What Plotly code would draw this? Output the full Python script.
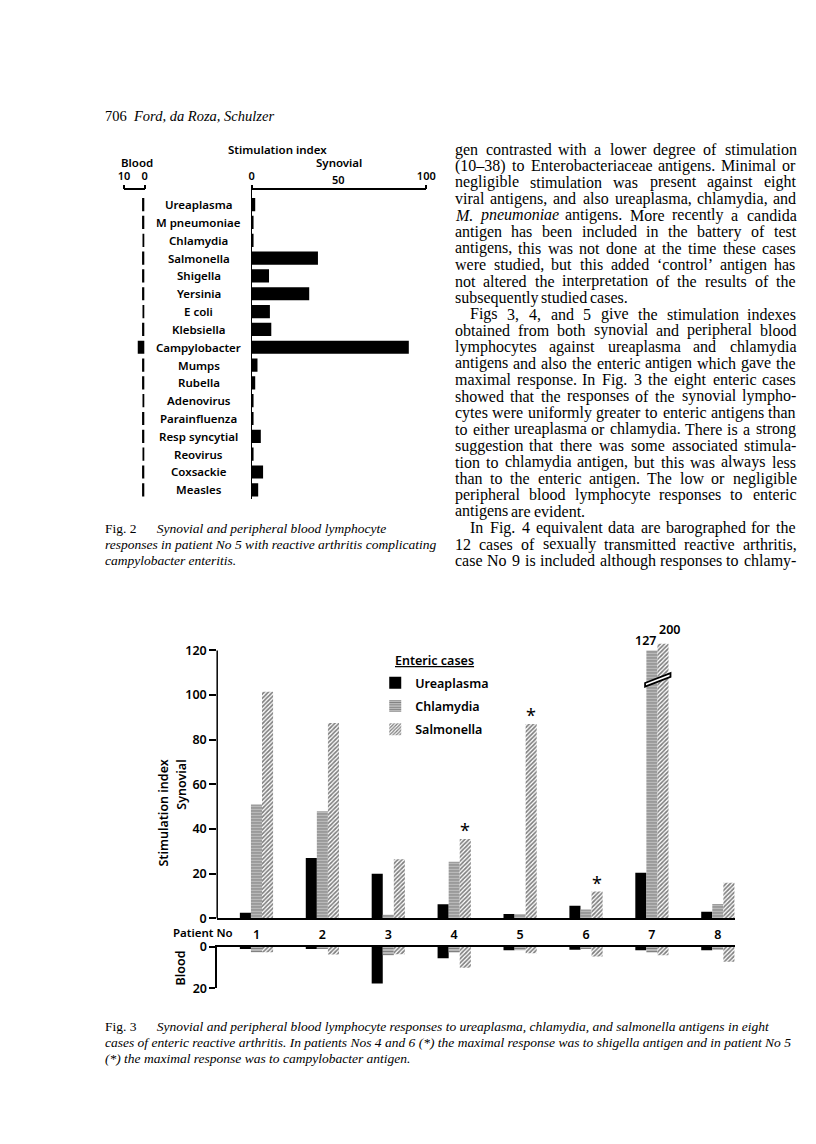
import plotly.graph_objects as go

W, H = 816, 1144

# ---------------- data ----------------
fig2_antigens = ["Ureaplasma", "M pneumoniae", "Chlamydia", "Salmonella", "Shigella",
                 "Yersinia", "E coli", "Klebsiella", "Campylobacter", "Mumps", "Rubella",
                 "Adenovirus", "Parainfluenza", "Resp syncytial", "Reovirus", "Coxsackie",
                 "Measles"]
fig2_synovial = [2.1, 1.1, 0.9, 38, 10, 33, 10.5, 11.3, 90, 3.4, 2.1, 1.1, 1.1, 5.3, 0.9, 6.6, 3.8]
fig2_blood = [1.2, 1.2, 1.0, 1.2, 1.2, 1.2, 1.0, 1.2, 3.3, 1.2, 1.2, 1.0, 1.2, 1.2, 1.0, 1.2, 1.2]
fig2_blood_ticks = [10, 0]
fig2_syn_ticks = [0, 50, 100]

fig3_patients = [1, 2, 3, 4, 5, 6, 7, 8]
fig3_series = ["Ureaplasma", "Chlamydia", "Salmonella"]
fig3_synovial = {
    "Ureaplasma": [2.5, 27, 20, 6.3, 2, 5.7, 20.4, 3],
    "Chlamydia": [51, 48, 1.6, 25.4, 2, 4, 127, 6.5],
    "Salmonella": [101.5, 87.5, 26.5, 35.6, 87, 12, 200, 16],
}
fig3_blood = {
    "Ureaplasma": [1.0, 0.8, 17.6, 5.4, 1.6, 1.3, 1.6, 1.6],
    "Chlamydia": [2.5, 1.0, 4.0, 2.7, 1.6, 1.0, 2.7, 1.5],
    "Salmonella": [2.5, 3.7, 3.5, 10.0, 3.0, 4.6, 4.0, 7.2],
}
# height at which an off-scale bar is drawn on the broken axis
fig3_break_draw = {"Ureaplasma": 120, "Chlamydia": 120, "Salmonella": 123}
fig3_break_at = 106
fig3_starred = [4, 5, 6]          # maximal response to another enteric antigen
fig3_syn_ticks = [0, 20, 40, 60, 80, 100, 120]
fig3_blood_ticks = [0, 20]

header = ["706", "Ford, da Roza, Schulzer"]

body_lines = [
    ("gen contrasted with a lower degree of stimulation", True, False),
    ("(10–38) to Enterobacteriaceae antigens. Minimal or", True, False),
    ("negligible stimulation was present against eight", True, False),
    ("viral antigens, and also ureaplasma, chlamydia, and", True, False),
    ("_M. _pneumoniae antigens. More recently a candida", True, False),
    ("antigen has been included in the battery of test", True, False),
    ("antigens, this was not done at the time these cases", True, False),
    ("were studied, but this added ‘control’ antigen has", True, False),
    ("not altered the interpretation of the results of the", True, False),
    ("subsequently studied cases.", False, False),
    ("Figs 3, 4, and 5 give the stimulation indexes", True, True),
    ("obtained from both synovial and peripheral blood", True, False),
    ("lymphocytes against ureaplasma and chlamydia", True, False),
    ("antigens and also the enteric antigen which gave the", True, False),
    ("maximal response. In Fig. 3 the eight enteric cases", True, False),
    ("showed that the responses of the synovial lympho-", True, False),
    ("cytes were uniformly greater to enteric antigens than", True, False),
    ("to either ureaplasma or chlamydia. There is a strong", True, False),
    ("suggestion that there was some associated stimula-", True, False),
    ("tion to chlamydia antigen, but this was always less", True, False),
    ("than to the enteric antigen. The low or negligible", True, False),
    ("peripheral blood lymphocyte responses to enteric", True, False),
    ("antigens are evident.", False, False),
    ("In Fig. 4 equivalent data are barographed for the", True, True),
    ("12 cases of sexually transmitted reactive arthritis,", True, False),
    ("case No 9 is included although responses to chlamy-", True, False),
]

fig2_caption = [
    ("Fig. 2", "Synovial and peripheral blood lymphocyte"),
    ("", "responses in patient No 5 with reactive arthritis complicating"),
    ("", "campylobacter enteritis."),
]
fig3_caption = [
    ("Fig. 3", "Synovial and peripheral blood lymphocyte responses to ureaplasma, chlamydia, and salmonella antigens in eight"),
    ("", "cases of enteric reactive arthritis. In patients Nos 4 and 6 (*) the maximal response was to shigella antigen and in patient No 5"),
    ("", "(*) the maximal response was to campylobacter antigen."),
]

# ---------------- helpers ----------------
def fx(px):
    return px / W


def fy(py):
    return 1 - py / H


TIMES = {' ': 250, '!': 333, '(': 333, ')': 333, '*': 500, ',': 250, '-': 333, '.': 250,
         '/': 278, ':': 278, ';': 278, '‘': 333, '’': 333, "'": 180, '–': 500,
         'A': 722, 'B': 667, 'C': 667, 'D': 722, 'E': 611, 'F': 556, 'G': 722, 'H': 722,
         'I': 333, 'J': 389, 'K': 722, 'L': 611, 'M': 889, 'N': 722, 'O': 722, 'P': 556,
         'Q': 722, 'R': 667, 'S': 556, 'T': 611, 'U': 722, 'V': 722, 'W': 944, 'X': 722,
         'Y': 722, 'Z': 611,
         'a': 444, 'b': 500, 'c': 444, 'd': 500, 'e': 444, 'f': 333, 'g': 500, 'h': 500,
         'i': 278, 'j': 278, 'k': 500, 'l': 278, 'm': 778, 'n': 500, 'o': 500, 'p': 500,
         'q': 500, 'r': 333, 's': 389, 't': 278, 'u': 500, 'v': 500, 'w': 722, 'x': 500,
         'y': 500, 'z': 444}
for d in "0123456789":
    TIMES[d] = 500
TIMES_I = {'a': 500, 'f': 278, 'k': 444, 'm': 722, 'r': 389, 'v': 444, 'w': 667,
           'x': 444, 'y': 444, 'z': 389, 'M': 833}


def text_w(word, fs, italic=False):
    tot = 0
    for ch in word:
        if italic and ch in TIMES_I:
            tot += TIMES_I[ch]
        else:
            tot += TIMES.get(ch, 500)
    return tot * fs / 1000


SANS = "Noto Sans"
SERIF = "Liberation Serif"
F2 = dict(family=SANS, size=11.5, color="black", weight=600)
F2T = dict(family=SANS, size=11, color="black", weight=600)
F3 = dict(family=SANS, size=12.5, color="black", weight=600)
F3T = dict(family=SANS, size=12.5, color="black", weight=600)

fig = go.Figure()

# ---------------- Fig 2 ----------------
fig.add_trace(go.Bar(x=fig2_blood, y=fig2_antigens, orientation="h", xaxis="x", yaxis="y",
                     marker=dict(color="black", line=dict(width=0)), width=0.74,
                     showlegend=False, hoverinfo="skip"))
fig.add_trace(go.Bar(x=fig2_synovial, y=fig2_antigens, orientation="h", xaxis="x2", yaxis="y2",
                     marker=dict(color="black", line=dict(width=0)), width=0.74,
                     showlegend=False, hoverinfo="skip"))

# ---------------- Fig 3 ----------------
BAR_W = 0.168
offsets = {"Ureaplasma": -1.5 * BAR_W, "Chlamydia": -0.5 * BAR_W, "Salmonella": 0.5 * BAR_W}


def marker_for(name):
    if name == "Ureaplasma":
        return dict(color="black", line=dict(width=0))
    if name == "Chlamydia":
        return dict(color="white", line=dict(width=0),
                    pattern=dict(shape="-", fgcolor="black", bgcolor="white", size=3, solidity=0.7))
    return dict(color="white", line=dict(width=0),
                pattern=dict(shape="/", fgcolor="black", bgcolor="white", size=3, solidity=0.55))


SYN_TOP = 124
for name in fig3_series:
    vals = fig3_synovial[name]
    drawn = [min(v, fig3_break_draw[name]) for v in vals]
    fig.add_trace(go.Bar(x=fig3_patients, y=drawn, xaxis="x3", yaxis="y3", name=name,
                         legendgroup=name, width=BAR_W, offset=offsets[name],
                         marker=marker_for(name), hoverinfo="skip"))
for name in fig3_series:
    fig.add_trace(go.Bar(x=fig3_patients, y=fig3_blood[name], xaxis="x4", yaxis="y4",
                         legendgroup=name, showlegend=False, width=BAR_W, offset=offsets[name],
                         marker=marker_for(name), hoverinfo="skip"))

PXU = 2.267  # synovial px per unit (fig 3)
x3_range = [0.404, 8.268]

common = dict(showgrid=False, zeroline=False, fixedrange=True, linecolor="black",
              tickcolor="black")

fig.update_layout(
    width=W, height=H, margin=dict(l=0, r=0, t=0, b=0),
    paper_bgcolor="white", plot_bgcolor="rgba(0,0,0,0)",
    font=dict(family=SANS, color="black"),
    barmode="overlay",
    # fig 2 blood
    xaxis=dict(domain=[fx(112), fx(133)], range=[10, 0], side="top", anchor="y",
               showline=True, linewidth=1.5, ticks="outside", ticklen=4, tickwidth=1.5,
               tickvals=fig2_blood_ticks, tickfont=F2T, ticklabelstandoff=0, **common),
    yaxis=dict(domain=[fy(489), fy(176)], range=[16.5, -0.8], type="category",
               categoryorder="array", categoryarray=fig2_antigens, anchor="x",
               visible=False, **common),
    # fig 2 synovial
    xaxis2=dict(domain=[fx(242), fx(420)], range=[0, 100], side="top", anchor="y2",
                showline=True, linewidth=1.5, ticks="outside", ticklen=4, tickwidth=1.5,
                tickvals=[fig2_syn_ticks[0], fig2_syn_ticks[-1]], tickfont=F2T,
                ticklabelstandoff=0, **common),
    yaxis2=dict(domain=[fy(489), fy(176)], range=[16.5, -0.8], type="category",
                categoryorder="array", categoryarray=fig2_antigens, anchor="x2",
                showline=True, linewidth=1.2, showticklabels=False, ticks="", **common),
    # fig 3 synovial
    xaxis3=dict(domain=[fx(207), fx(735)], range=x3_range, anchor="y3", showline=True,
                linewidth=1.5, ticks="", tickvals=fig3_patients, tickfont=F3T,
                ticklabelstandoff=4, **common),
    yaxis3=dict(domain=[fy(915), fy(915 - SYN_TOP * PXU)], range=[0, SYN_TOP], anchor="x3",
                ticks="outside", ticklen=7, tickwidth=1.5, tickvals=fig3_syn_ticks,
                tickfont=F3T, showline=False, **common),
    # fig 3 blood
    xaxis4=dict(domain=[fx(207), fx(735)], range=x3_range, anchor="y4", side="top",
                showline=True, linewidth=1.5, ticks="", showticklabels=False, **common),
    yaxis4=dict(domain=[fy(986), fy(944)], range=[20, 0], anchor="x4", ticks="outside",
                ticklen=6, tickwidth=1.5, tickvals=fig3_blood_ticks, tickfont=F3T,
                showline=True, linewidth=1.5, **common),
    legend=dict(x=fx(368), y=fy(661), xanchor="left", yanchor="top", font=F3,
                bgcolor="rgba(0,0,0,0)", traceorder="grouped", tracegroupgap=4,
                itemclick=False, itemdoubleclick=False),
    showlegend=True,
)

shapes = []
# synovial axis line stops at the top tick (axis is broken above)
shapes.append(dict(type="line", xref="x3 domain", x0=0, x1=0, yref="y3", y0=0,
                   y1=fig3_syn_ticks[-1], line=dict(color="black", width=1.5)))
# break mark across the off-scale bars of patient 7
bx0 = 7 + offsets["Chlamydia"] - 0.02
bx1 = 7 + offsets["Salmonella"] + BAR_W + 0.03
b0 = fig3_break_at - 2.2
b1 = fig3_break_at + 2.2
th = 1.6
shapes.append(dict(type="path", xref="x3", yref="y3",
                   path=f"M {bx0},{b0} L {bx1},{b1} L {bx1},{b1 + th} L {bx0},{b0 + th} Z",
                   fillcolor="white", line=dict(color="black", width=1.8), layer="above"))
fig.update_layout(shapes=shapes)

ann = []


def add(text, x, y, font, xanchor="center", yanchor="middle", xref="paper", yref="paper", **kw):
    ann.append(dict(text=text, x=x, y=y, xref=xref, yref=yref, xanchor=xanchor,
                    yanchor=yanchor, showarrow=False, font=font, **kw))


# Fig 2 labels
add("Stimulation index", fx(268), fy(134), F2, borderpad=0)
add("Blood", fx(125), fy(148), F2, borderpad=0)
add("Synovial", fx(331), fy(148), F2, borderpad=0)
add(str(fig2_syn_ticks[1]), fig2_syn_ticks[1], fy(165), F2T, xref="x2", borderpad=0)
for name in fig2_antigens:
    add(name, fx(188), name, F2, yref="y", borderpad=0)

# Fig 3 labels
add("<u>Enteric cases</u>", fx(386), fy(653), F3, xanchor="left")
add("Stimulation index", fx(152), fy(752), F3, yanchor="top", textangle=-90)
add("Synovial", fx(171), fy(752), F3, yanchor="top", textangle=-90)
add("Blood", fx(170), fy(965), F3, textangle=-90)
add("Patient No", fx(161), fy(929.5), dict(family=SANS, size=11.5, color="black", weight=600),
    xanchor="left", borderpad=0)
# off-scale values printed above the broken bars
for name, dx, dy in (("Chlamydia", -6, 0), ("Salmonella", 7, 5)):
    i = fig3_patients.index(7)
    v = fig3_synovial[name][i]
    add(str(v), 7 + offsets[name] + BAR_W / 2, fig3_break_draw[name], F3,
        yanchor="bottom", xref="x3", yref="y3", xshift=dx, yshift=dy, borderpad=0)
for p in fig3_starred:
    i = fig3_patients.index(p)
    add("*", p + offsets["Salmonella"] + BAR_W / 2, fig3_synovial["Salmonella"][i],
        dict(family=SANS, size=18, color="black"), yanchor="bottom", xref="x3", yref="y3",
        yshift=-5)

LEFT = 92
# header
add(f"{header[0]}\u2002<i>{header[1]}</i>", fx(LEFT), fy(101),
    dict(family=SERIF, size=14.5, color="black"), xanchor="left", borderpad=0)

# body text, justified word by word
BODY_LEFT, BODY_RIGHT = 448, 795
BODY_Y0, BODY_DY, BODY_FS = 134.5, 16.7, 16
for i, (line, justify, indent) in enumerate(body_lines):
    words = line.split(" ")
    ital = [w.startswith("_") for w in words]
    words = [w.lstrip("_") for w in words]
    widths = [text_w(w, BODY_FS, it) for w, it in zip(words, ital)]
    x0 = BODY_LEFT + (16 if indent else 0)
    if justify and len(words) > 1:
        gap = (BODY_RIGHT - x0 - sum(widths)) / (len(words) - 1)
    else:
        gap = 0.25 * BODY_FS
    x = x0
    y = BODY_Y0 + i * BODY_DY
    for w, wd, it in zip(words, widths, ital):
        add(f"<i>{w}</i>" if it else w, fx(x), fy(y),
            dict(family=SERIF, size=BODY_FS, color="black"), xanchor="left", borderpad=0)
        x += wd + gap

# captions
CAP_FONT = dict(family=SERIF, size=13.5, color="black")
for j, (lab, txt) in enumerate(fig2_caption):
    t = (f"{lab}\u2003\u2002<i>{txt}</i>" if lab else f"<i>{txt}</i>")
    add(t, fx(LEFT), fy(519 + j * 16.6), CAP_FONT, xanchor="left", borderpad=0)
for j, (lab, txt) in enumerate(fig3_caption):
    t = (f"{lab}\u2003\u2002<i>{txt}</i>" if lab else f"<i>{txt}</i>")
    add(t, fx(LEFT), fy(1025 + j * 16.2), CAP_FONT, xanchor="left", borderpad=0)

fig.update_layout(annotations=ann)
fig.write_html("out.html")
